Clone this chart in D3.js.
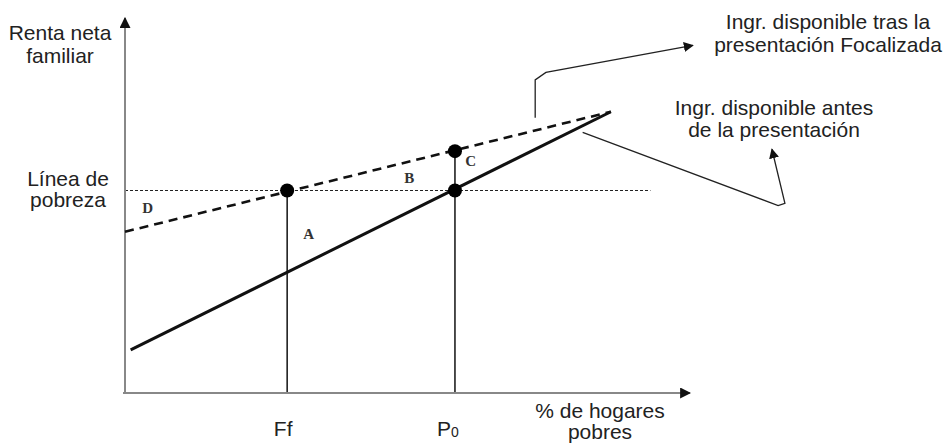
<!DOCTYPE html>
<html>
<head>
<meta charset="utf-8">
<script src="https://cdn.jsdelivr.net/npm/d3@7"></script>
<style>
  body { margin: 0; background: #fff; }
  text { font-family: "Liberation Sans", Arial, sans-serif; fill: #222; }
  .zone { font-family: "Liberation Serif", "DejaVu Serif", serif; font-weight: bold; font-size: 15px; fill: #333; }
</style>
</head>
<body>
<svg id="svg1" width="947" height="443"></svg>
<script>
// data (units of the schematic: 0..100 on both axes)
var povertyLevel = 54;
var povertyEnd = 93;
var markers = [{name: "Ff", x: 28.7}, {name: "P0", x: 58.4}];
var incomeBefore = [[1, 11.5], [86, 75]];        // solid
var incomeAfter = [[0, 43], [86, 75]];           // dashed
var dots = [[28.7, 54], [58.4, 54], [58.4, 64.5]];
var zones = [{t: "D", x: 4, y: 48}, {t: "A", x: 32.5, y: 41}, {t: "B", x: 50.3, y: 56}, {t: "C", x: 61.2, y: 60.5}];
var arrowAfter = [[72.6, 73.4], [72.6, 83.5], [74.5, 85.5], [100.5, 92.7]];
var arrowBefore = [[81, 69.5], [115.6, 50], [116.8, 50.6], [114.5, 65]];

var svg = d3.select("#svg1");
var x = d3.scaleLinear().domain([0, 100]).range([125, 690]);
var y = d3.scaleLinear().domain([0, 100]).range([393, 18]);

var defs = svg.append("defs");
defs.append("marker").attr("id", "head").attr("viewBox", "0 0 10 10")
    .attr("refX", 9).attr("refY", 5).attr("markerWidth", 10).attr("markerHeight", 10)
    .attr("markerUnits", "userSpaceOnUse").attr("orient", "auto")
  .append("path").attr("d", "M0,0L10,5L0,10Z").attr("fill", "#111");
defs.append("marker").attr("id", "axhead").attr("viewBox", "0 0 10 10")
    .attr("refX", 9).attr("refY", 5).attr("markerWidth", 11).attr("markerHeight", 11)
    .attr("markerUnits", "userSpaceOnUse").attr("orient", "auto")
  .append("path").attr("d", "M0,0L10,5L0,10Z").attr("fill", "#111");

var line = d3.line().x(function(d) { return x(d[0]); }).y(function(d) { return y(d[1]); });

// poverty line
svg.append("line")
    .attr("x1", x(0)).attr("x2", x(povertyEnd))
    .attr("y1", y(povertyLevel)).attr("y2", y(povertyLevel))
    .attr("stroke", "#222").attr("stroke-width", 1).attr("stroke-dasharray", "3,2");

// verticals at Ff and P0
svg.selectAll(".vline").data([[28.7, 54], [58.4, 64.5]]).enter().append("line")
    .attr("x1", function(d) { return x(d[0]); }).attr("x2", function(d) { return x(d[0]); })
    .attr("y1", function(d) { return y(d[1]); }).attr("y2", y(0))
    .attr("stroke", "#111").attr("stroke-width", 1.5);

// axes
svg.append("line").attr("x1", x(0)).attr("x2", x(0)).attr("y1", y(0) + 1).attr("y2", y(100))
    .attr("stroke", "#888").attr("stroke-width", 2).attr("marker-end", "url(#axhead)");
svg.append("line").attr("x1", x(0) - 2).attr("x2", x(100)).attr("y1", y(0)).attr("y2", y(0))
    .attr("stroke", "#888").attr("stroke-width", 2).attr("marker-end", "url(#axhead)");

// income lines
svg.append("path").datum(incomeBefore).attr("d", line)
    .attr("fill", "none").attr("stroke", "#111").attr("stroke-width", 3);
svg.append("path").datum(incomeAfter).attr("d", line)
    .attr("fill", "none").attr("stroke", "#111").attr("stroke-width", 2.6).attr("stroke-dasharray", "9,6");

svg.selectAll(".dot").data(dots).enter().append("circle")
    .attr("cx", function(d) { return x(d[0]); }).attr("cy", function(d) { return y(d[1]); })
    .attr("r", 7).attr("fill", "#000");

svg.selectAll(".zone").data(zones).enter().append("text")
    .attr("class", "zone").attr("text-anchor", "middle")
    .attr("x", function(d) { return x(d.x); }).attr("y", function(d) { return y(d.y); })
    .text(function(d) { return d.t; });

// annotation arrows
svg.append("path").datum(arrowAfter).attr("d", line)
    .attr("fill", "none").attr("stroke", "#222").attr("stroke-width", 1.3).attr("marker-end", "url(#head)");
svg.append("path").datum(arrowBefore).attr("d", line)
    .attr("fill", "none").attr("stroke", "#222").attr("stroke-width", 1.3).attr("marker-end", "url(#head)");

// labels
function label(lines, cx, cy, gap) {
  var t = svg.append("text").attr("text-anchor", "middle").attr("font-size", 21);
  lines.forEach(function(s, i) {
    t.append("tspan").attr("x", cx).attr("y", cy + i * gap).text(s);
  });
  return t;
}
label(["Renta neta", "familiar"], 60, 40, 23);
label(["Línea de", "pobreza"], 68, 186, 21);
label(["Ingr. disponible tras la", "presentación Focalizada"], 828, 29, 23);
label(["Ingr. disponible antes", "de la presentación"], 774, 115, 22);
label(["% de hogares", "pobres"], 600, 418, 21);

svg.append("text").attr("text-anchor", "middle").attr("font-size", 21)
    .attr("x", x(markers[0].x) - 4).attr("y", 436).text("Ff");
var p0 = svg.append("text").attr("text-anchor", "start").attr("font-size", 21)
    .attr("x", x(markers[1].x) - 18).attr("y", 436).text("P");
p0.append("tspan").attr("font-size", 14).attr("dy", 1).text("0");
</script>
</body>
</html>
